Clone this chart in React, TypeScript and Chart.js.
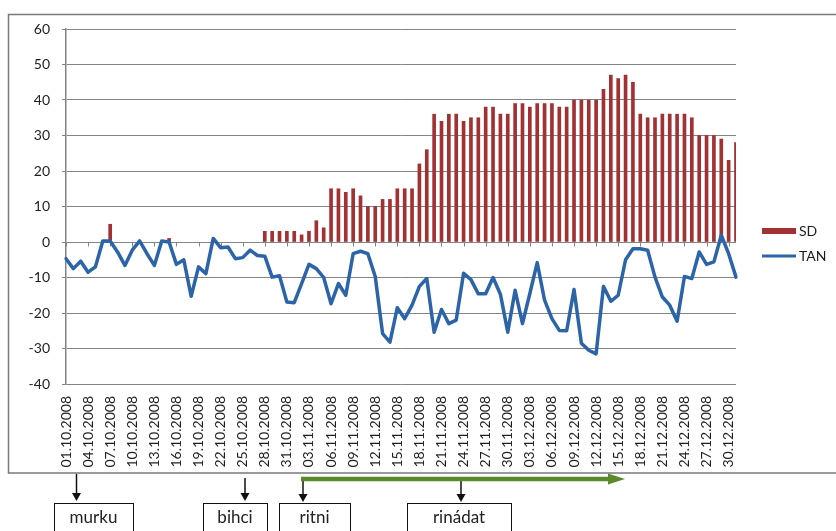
import React, { useEffect, useRef } from "react";
import { Chart, registerables } from "chart.js";

Chart.register(...registerables);

const dates: string[] = [
  "01.10.2008", "02.10.2008", "03.10.2008", "04.10.2008", "05.10.2008", "06.10.2008", "07.10.2008", "08.10.2008",
  "09.10.2008", "10.10.2008", "11.10.2008", "12.10.2008", "13.10.2008", "14.10.2008", "15.10.2008", "16.10.2008",
  "17.10.2008", "18.10.2008", "19.10.2008", "20.10.2008", "21.10.2008", "22.10.2008", "23.10.2008", "24.10.2008",
  "25.10.2008", "26.10.2008", "27.10.2008", "28.10.2008", "29.10.2008", "30.10.2008", "31.10.2008",
  "01.11.2008", "02.11.2008", "03.11.2008", "04.11.2008", "05.11.2008", "06.11.2008", "07.11.2008", "08.11.2008",
  "09.11.2008", "10.11.2008", "11.11.2008", "12.11.2008", "13.11.2008", "14.11.2008", "15.11.2008", "16.11.2008",
  "17.11.2008", "18.11.2008", "19.11.2008", "20.11.2008", "21.11.2008", "22.11.2008", "23.11.2008", "24.11.2008",
  "25.11.2008", "26.11.2008", "27.11.2008", "28.11.2008", "29.11.2008", "30.11.2008",
  "01.12.2008", "02.12.2008", "03.12.2008", "04.12.2008", "05.12.2008", "06.12.2008", "07.12.2008", "08.12.2008",
  "09.12.2008", "10.12.2008", "11.12.2008", "12.12.2008", "13.12.2008", "14.12.2008", "15.12.2008", "16.12.2008",
  "17.12.2008", "18.12.2008", "19.12.2008", "20.12.2008", "21.12.2008", "22.12.2008", "23.12.2008", "24.12.2008",
  "25.12.2008", "26.12.2008", "27.12.2008", "28.12.2008", "29.12.2008", "30.12.2008", "31.12.2008",
];

// SD: days without snow are left empty (null)
const sdValues: (number | null)[] = [
  null, null, null, null, null, null, 5, null, null, null, null, null, null, null, 1, null,
  null, null, null, null, null, null, null, null, null, null, null, 3, 3, 3, 3,
  3, 2, 3, 6, 4, 15, 15, 14, 15, 13, 10, 10, 12, 12, 15, 15,
  15, 22, 26, 36, 34, 36, 36, 34, 35, 35, 38, 38, 36, 36,
  39, 39, 38, 39, 39, 39, 38, 38, 40, 40, 40, 40, 43, 47, 46, 47,
  45, 36, 35, 35, 36, 36, 36, 36, 35, 30, 30, 30, 29, 23, 28,
];

const tanValues: number[] = [
  -4.7, -7.5, -5.4, -8.5, -7, 0.3, 0.3, -2.8, -6.6, -2.3, 0.3, -3.3, -6.6, 0.3, 0, -6.3,
  -5, -15.3, -7, -8.9, 1, -1.6, -1.4, -4.7, -4.4, -2.3, -3.8, -4, -9.9, -9.5, -16.9,
  -17.1, -11.7, -6.3, -7.5, -10, -17.4, -11.7, -15, -3.3, -2.6, -3.3, -9.7, -25.8, -28.2, -18.5, -21.6,
  -17.8, -12.5, -10.3, -25.4, -19, -23, -22, -8.8, -10.6, -14.6, -14.6, -10, -14.7, -25.4,
  -13.6, -23, -14.5, -5.8, -16.4, -21.6, -24.9, -25, -13.4, -28.5, -30.5, -31.5, -12.5, -16.7, -15, -5,
  -1.9, -1.9, -2.3, -9.9, -15.5, -17.8, -22.3, -9.7, -10.3, -2.8, -6.3, -5.6, 1.9, -3.3, -9.9,
];

const seriesNames: string[] = ["SD", "TAN"];
const annotationLabels: string[] = ["murku", "bihci", "ritni", "rinádat"];

const Y_MIN = -40;
const Y_MAX = 60;
const Y_STEP = 10;

const FONT = "Lato, 'Liberation Sans', sans-serif";
const TEXT = "#1e1e1e";
const GRID = "#848484";
const RED = "#A23133";
const BLUE = "#2C64A9";
const GREEN = "#5A8A2C";

function arrowDown(ctx: CanvasRenderingContext2D, x: number, y1: number, tip: number) {
  ctx.save();
  ctx.strokeStyle = "#111";
  ctx.fillStyle = "#111";
  ctx.lineWidth = 1.5;
  ctx.beginPath();
  ctx.moveTo(x, y1);
  ctx.lineTo(x, tip - 7);
  ctx.stroke();
  ctx.beginPath();
  ctx.moveTo(x - 4.5, tip - 8);
  ctx.lineTo(x + 4.5, tip - 8);
  ctx.lineTo(x, tip);
  ctx.closePath();
  ctx.fill();
  ctx.restore();
}

function box(ctx: CanvasRenderingContext2D, x: number, w: number, label: string) {
  ctx.save();
  ctx.strokeStyle = "#111";
  ctx.lineWidth = 1;
  ctx.strokeRect(x + 0.5, 503.5, w, 40);
  ctx.fillStyle = "#222";
  ctx.font = `17px ${FONT}`;
  ctx.textAlign = "center";
  ctx.textBaseline = "middle";
  ctx.fillText(label, x + w / 2, 518);
  ctx.restore();
}

const decorPlugin = {
  id: "decor",
  beforeDatasetsDraw(chart: any) {
    const { ctx } = chart;
    const xs = chart.scales.x;
    const ys = chart.scales.y;
    const y0 = ys.getPixelForValue(0);
    ctx.save();
    ctx.strokeStyle = GRID;
    ctx.lineWidth = 1;
    for (let i = 0; i < dates.length; i += 3) {
      const x = Math.round(xs.getPixelForValue(i)) + 0.5;
      ctx.beginPath();
      ctx.moveTo(x, y0);
      ctx.lineTo(x, y0 + 4.5);
      ctx.stroke();
    }
    ctx.restore();
  },
  afterDraw(chart: any) {
    const { ctx } = chart;
    ctx.save();
    // outer frame
    ctx.strokeStyle = "#7a7a7a";
    ctx.lineWidth = 1.5;
    ctx.strokeRect(8.5, 14.5, 850, 458.5);

    // legend
    const ds = chart.data.datasets;
    ctx.fillStyle = ds[0].backgroundColor;
    ctx.fillRect(762, 228, 34, 6);
    ctx.strokeStyle = ds[1].borderColor;
    ctx.lineWidth = 3;
    ctx.beginPath();
    ctx.moveTo(762, 256);
    ctx.lineTo(796, 256);
    ctx.stroke();
    ctx.fillStyle = TEXT;
    ctx.font = `14px ${FONT}`;
    ctx.textAlign = "left";
    ctx.textBaseline = "middle";
    ctx.fillText(ds[0].label, 799, 231);
    ctx.fillText(ds[1].label, 799, 256);

    // annotations below the chart
    arrowDown(ctx, 76.5, 474, 501);
    arrowDown(ctx, 245, 478, 501);
    arrowDown(ctx, 303, 479, 502);
    arrowDown(ctx, 461, 479, 502);

    ctx.strokeStyle = GREEN;
    ctx.fillStyle = GREEN;
    ctx.lineWidth = 4.5;
    ctx.beginPath();
    ctx.moveTo(301, 479);
    ctx.lineTo(612, 479);
    ctx.stroke();
    ctx.beginPath();
    ctx.moveTo(608, 473.5);
    ctx.lineTo(625, 479);
    ctx.lineTo(608, 484.5);
    ctx.closePath();
    ctx.fill();

    box(ctx, 54, 79, annotationLabels[0]);
    box(ctx, 203, 64, annotationLabels[1]);
    box(ctx, 279, 71, annotationLabels[2]);
    box(ctx, 407, 104, annotationLabels[3]);
    ctx.restore();
  },
};

export default function App() {
  const ref = useRef<HTMLCanvasElement>(null);

  useEffect(() => {
    if (!ref.current) return;
    const chart = new Chart(ref.current, {
      type: "bar",
      data: {
        labels: dates,
        datasets: [
          {
            type: "bar",
            label: seriesNames[0],
            data: sdValues,
            backgroundColor: RED,
            barThickness: 3,
            order: 1,
          } as any,
          {
            type: "line",
            label: seriesNames[1],
            data: tanValues,
            borderColor: BLUE,
            backgroundColor: BLUE,
            borderWidth: 3.5,
            pointRadius: 0,
            tension: 0,
            borderJoinStyle: "round",
            borderCapStyle: "round",
            order: 0,
          } as any,
        ],
      },
      options: {
        responsive: false,
        maintainAspectRatio: false,
        animation: false,
        devicePixelRatio: 1,
        layout: { padding: { left: 0, top: 29, right: 100, bottom: 0 } },
        plugins: {
          legend: { display: false },
          tooltip: { enabled: false },
        },
        scales: {
          x: {
            offset: false,
            grid: { display: false, drawTicks: false },
            border: { display: false },
            ticks: {
              autoSkip: false,
              maxRotation: 90,
              minRotation: 90,
              padding: 12,
              color: TEXT,
              font: { family: FONT, size: 14 },
              callback: (_v: any, i: number) => (i % 3 === 0 ? dates[i] : ""),
            },
            afterFit: (s: any) => {
              s.height = 147;
            },
          },
          y: {
            min: Y_MIN,
            max: Y_MAX,
            ticks: {
              stepSize: Y_STEP,
              padding: 12,
              color: TEXT,
              font: { family: FONT, size: 14 },
            },
            grid: { color: GRID, lineWidth: 1, drawTicks: true, tickLength: 4 },
            border: { display: true, color: GRID, width: 1.5 },
            afterFit: (s: any) => {
              s.width = 66;
            },
          },
        },
      } as any,
      plugins: [decorPlugin],
    });
    return () => chart.destroy();
  }, []);

  return (
    <div style={{ position: "absolute", left: 0, top: 0, width: 836, height: 531, background: "#fff" }}>
      <canvas ref={ref} width={836} height={531} style={{ display: "block", width: 836, height: 531 }} />
    </div>
  );
}
